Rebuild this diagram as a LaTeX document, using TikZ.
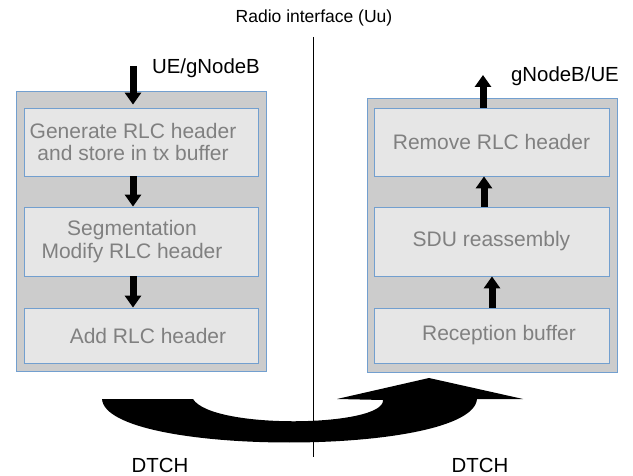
\documentclass[tikz,border=0pt]{standalone}
\usepackage{fontspec}
\setmainfont{Liberation Sans}
\usetikzlibrary{arrows.meta, positioning, calc}
\definecolor{panelgray}{RGB}{204, 204, 204}
\definecolor{boxgray}{RGB}{230, 230, 230}
\definecolor{edgeblue}{RGB}{114, 159, 207}
\definecolor{labelgray}{RGB}{128, 128, 128}

\begin{document}
\begin{tikzpicture}[x=1pt, y=-1pt,
    panel/.style={fill=panelgray, draw=edgeblue, line width=0.8pt, inner sep=0pt},
    stage/.style={fill=boxgray, draw=edgeblue, line width=0.8pt, inner sep=0pt,
          text=labelgray, align=center, font=\fontsize{21}{22.5}\selectfont},
    blockarrow/.style={line width=7pt, -{Triangle[width=16pt, length=12pt]}},
    caption/.style={font=\fontsize{20.4}{23}\selectfont, inner sep=0pt}]
    \useasboundingbox (0,0) rectangle (633,476);

    % air interface divider
    \node[font=\fontsize{17.5}{21}\selectfont, inner sep=0pt] (uu) at (314,18) {Radio interface (Uu)};
    \coordinate (divtop) at (313,37);
    \coordinate (divbot) at (313,457);
    \draw[line width=0.6pt] (divtop) -- (divbot);

    % transmitting side
    \node[panel, minimum width=250, minimum height=280] (txpanel) at (141,231) {};
    \node[stage, minimum width=234, minimum height=68] (gen) at (141,142)
        {Generate RLC header\kern16pt\\and store in tx buffer\kern16pt};
    \node[stage, minimum width=234, minimum height=69] (seg) at (141,241.5)
        {Segmentation\kern18pt\\Modify RLC header\kern18pt};
    \node[stage, minimum width=234, minimum height=55] (addhdr) at (141,335.5)
        {\kern14pt Add RLC header};

    % receiving side
    \node[panel, minimum width=250, minimum height=274] (rxpanel) at (492,235) {};
    \node[stage, minimum width=235, minimum height=68] (rem) at (491.5,142)
        {Remove RLC header};
    \node[stage, minimum width=235, minimum height=69] (sdu) at (491.5,241.5)
        {SDU reassembly};
    \node[stage, minimum width=235, minimum height=55] (rxbuf) at (491.5,335.5)
        {\kern15pt Reception buffer};

    \node[caption] (uein) at (206,68) {UE/gNodeB};
    \node[caption] (gnbout) at (565,76) {gNodeB/UE};
    \coordinate (intop) at (133,66);
    \coordinate (outtop) at (483,75);

    \draw[blockarrow] (intop) -- ([xshift=-8pt, yshift=3pt]gen.north);
    \draw[blockarrow] ([xshift=-8pt]gen.south) -- ([xshift=-8pt]seg.north);
    \draw[blockarrow] ([xshift=-8pt]seg.south) -- ([xshift=-8pt]addhdr.north);
    \draw[blockarrow] ([xshift=0.5pt]rxbuf.north) -- ([xshift=0.5pt]sdu.south);
    \draw[blockarrow] ([xshift=-7.5pt]sdu.north) -- ([xshift=-7.5pt]rem.south);
    \draw[blockarrow] ([xshift=-8.5pt]rem.north) -- (outtop);

    % curved transfer arrow
    \fill[black] (102,399) -- (193,399)
        .. controls (212,430) and (385,427) .. (383,400)
        -- (337,399) -- (429,378) -- (523,399) -- (477,399)
        .. controls (472,457) and (106,457) .. (102,399) -- cycle;

    \node[caption] (dtchtx) at (160,465) {DTCH};
    \node[caption] (dtchrx) at (480,465) {DTCH};
\end{tikzpicture}
\end{document}
